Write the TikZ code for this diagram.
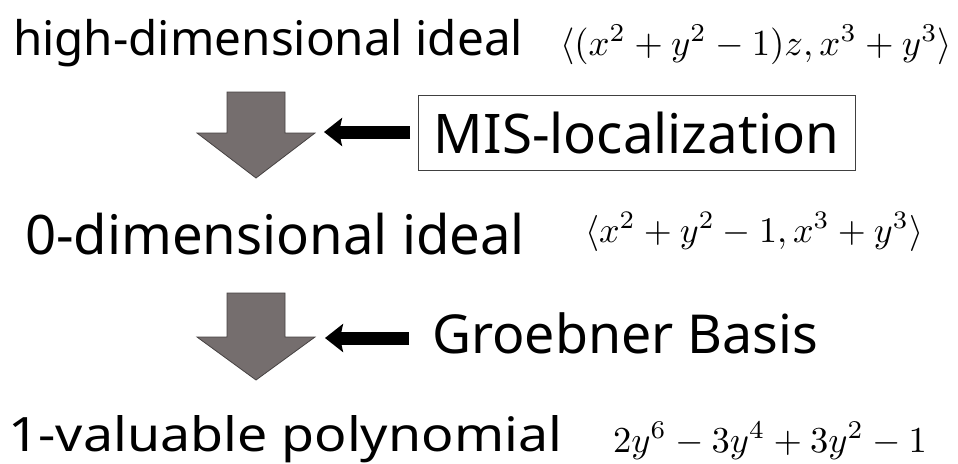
\documentclass[tikz,border=0pt]{standalone}
\usepackage[no-math]{fontspec}
\setmainfont{Noto Sans}
\usetikzlibrary{arrows.meta}
\definecolor{arrowgray}{RGB}{117,110,110}
\definecolor{edgegray}{RGB}{70,66,66}
\tikzset{
  lbl/.style={anchor=base west, inner sep=0pt, outer sep=0pt},
  bigarrow/.style={fill=arrowgray, draw=edgegray, line width=0.8pt, line join=miter},
  blkarrow/.style={line width=13pt, -{Stealth[length=18pt,width=28pt,inset=3pt]}},
  framebox/.style={draw=black!75, line width=0.9pt, inner sep=0pt, minimum width=437pt, minimum height=75pt}
}
\newcommand{\txt}[2]{\resizebox{#1}{!}{\fontsize{48}{56}\selectfont #2}}
\newcommand{\txtwh}[3]{\resizebox{#1}{#2}{\fontsize{48}{56}\selectfont #3}}
\begin{document}
\begin{tikzpicture}[x=1pt,y=-1pt]
\useasboundingbox (0,0) rectangle (958,463);
% texts
\node[lbl] (r1) at (13,55) {\txt{510pt}{high-dimensional ideal}};
\node[lbl] (m1) at (560,55) {\resizebox{392pt}{!}{$\langle (x^2+y^2-1)z, x^3+y^3\rangle$}};
\node[lbl] (r2) at (25,254) {\txt{500pt}{0-dimensional ideal}};
\node[lbl] (m2) at (585,242) {\resizebox{338pt}{!}{$\langle x^2+y^2-1, x^3+y^3\rangle$}};
\node[lbl] (r3) at (8,451) {\txtwh{554pt}{36pt}{1-valuable polynomial}};
\node[lbl] (m3) at (613,452) {\resizebox{314pt}{!}{$2y^6-3y^4+3y^2-1$}};
\node[framebox] (mis) at (636.5,132.5) {\txt{405pt}{MIS-localization}};
\node[lbl] (gb) at (432,353) {\txt{386pt}{Groebner Basis}};
% big gray arrows
\draw[bigarrow] (227,92) -- (285,92) -- (285,133) -- (315,133) -- (256,178) -- (197,133) -- (227,133) -- cycle;
\draw[bigarrow] (227,293) -- (285,293) -- (285,337) -- (315,337) -- (256,380) -- (197,337) -- (227,337) -- cycle;
% black arrows
\coordinate (t1) at (410,132);
\coordinate (h1) at (324,132);
\coordinate (t2) at (409,338);
\coordinate (h2) at (325,338);
\draw[blkarrow] (t1) -- (h1);
\draw[blkarrow] (t2) -- (h2);
\end{tikzpicture}
\end{document}
